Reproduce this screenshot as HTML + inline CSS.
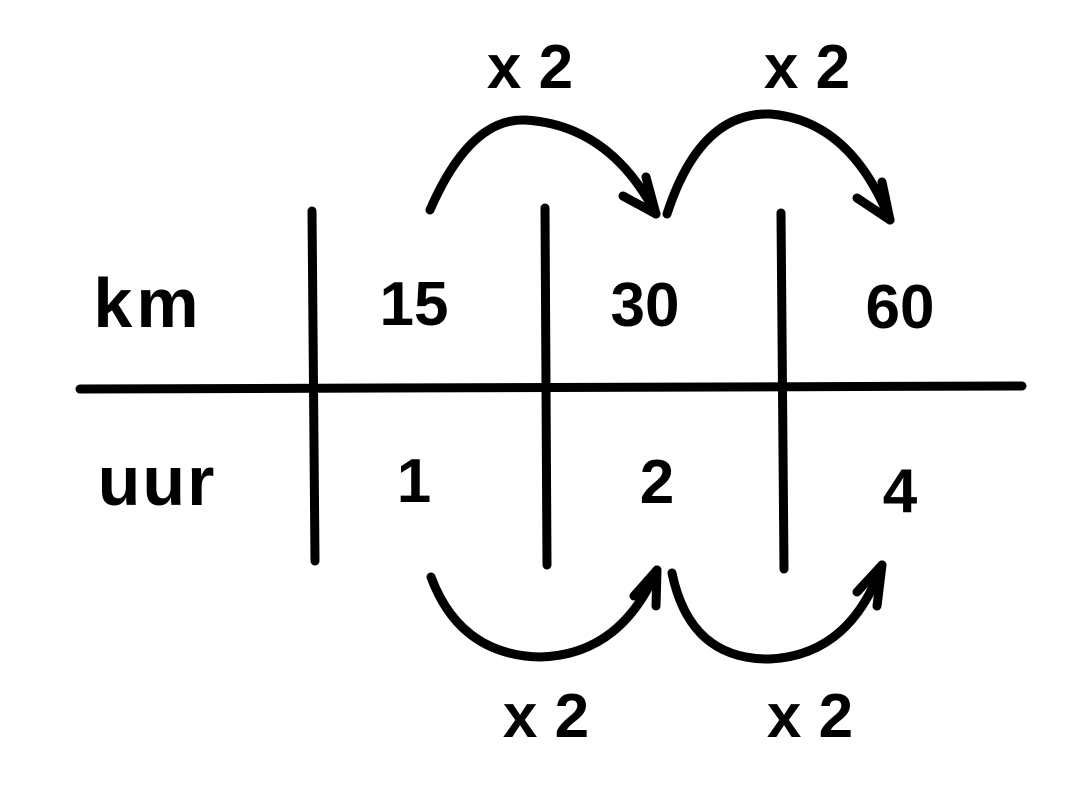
<!DOCTYPE html>
<html><head><style>
html,body{margin:0;padding:0;background:#fff;}
svg{display:block;}
text{font-family:"Liberation Sans",sans-serif;fill:#000;}
</style></head><body>
<svg width="1084" height="800" viewBox="0 0 1084 800">
<g stroke="#000" stroke-width="9" fill="none" stroke-linecap="round" stroke-linejoin="round">
<line x1="80" y1="389" x2="1022" y2="386"/>
<line x1="312" y1="211" x2="315" y2="561"/>
<line x1="545" y1="208" x2="547" y2="565"/>
<line x1="781" y1="213" x2="784" y2="569"/>
<path d="M430 210 Q470 118 525 120 Q610 125 656 214"/>
<path d="M623 196 L656 214 L646 177"/>
<path d="M667 214 Q700 112 770 114 Q850 120 890 220"/>
<path d="M857 198 L890 220 L882 182"/>
<path d="M431 577 Q460 655 540 657 Q620 655 657 570"/>
<path d="M634 596 L657 570 L656 606"/>
<path d="M672 573 Q690 660 770 659 Q850 655 882 565"/>
<path d="M857 592 L882 565 L877 606"/>
</g>
<g font-size="62" text-anchor="middle" font-weight="bold">
<text x="148" y="327" font-size="70" letter-spacing="4">km</text>
<text x="157" y="505" font-size="70" letter-spacing="2">uur</text>
<text x="414" y="325">15</text>
<text x="645" y="326">30</text>
<text x="900" y="328">60</text>
<text x="414" y="502">1</text>
<text x="657" y="503">2</text>
<text x="900" y="512">4</text>
<text x="530" y="88">x 2</text>
<text x="807" y="88">x 2</text>
<text x="546" y="737">x 2</text>
<text x="810" y="737">x 2</text>
</g>
</svg>
</body></html>
